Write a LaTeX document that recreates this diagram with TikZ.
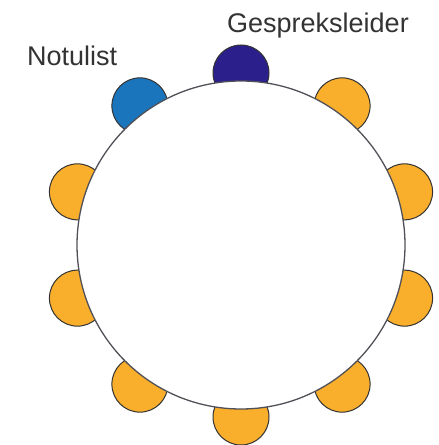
\documentclass[tikz,border=0pt]{standalone}
\usepackage{fontspec}
\setmainfont{Liberation Sans}
\definecolor{seatorange}{HTML}{F9AE2C}
\definecolor{chairblue}{HTML}{1B75BC}
\definecolor{leaderblue}{HTML}{2B1F8C}
\definecolor{rimgray}{HTML}{505058}
\begin{document}
\begin{tikzpicture}[x=1pt,y=1pt,
  seat/.style={circle, draw=black!80, line width=1pt, minimum size=56pt, inner sep=0pt},
  tablebox/.style={circle, draw=rimgray, line width=1.3pt, fill=white, minimum size=328pt, inner sep=0pt},
  lbl/.style={font=\fontsize{27}{30}\selectfont, text=black!80, inner sep=0pt}]
\useasboundingbox (0,0) rectangle (439,445);
\coordinate (c) at (241,200);
\node[seat, fill=leaderblue] (lead) at ([shift={(90:172)}]c) {};
\node[seat, fill=chairblue] (notu) at ([shift={(126:172)}]c) {};
\foreach \a/\n in {162/s1,198/s2,234/s3,270/s4,306/s5,342/s6,18/s7,54/s8}{
  \node[seat, fill=seatorange] (\n) at ([shift={(\a:172)}]c) {};
}
\node[tablebox] (table) at (c) {};
\node[lbl, anchor=base west] (tlead) at (227,412) {Gespreksleider};
\node[lbl, anchor=base west] (tnotu) at (27,379) {Notulist};
\end{tikzpicture}
\end{document}
